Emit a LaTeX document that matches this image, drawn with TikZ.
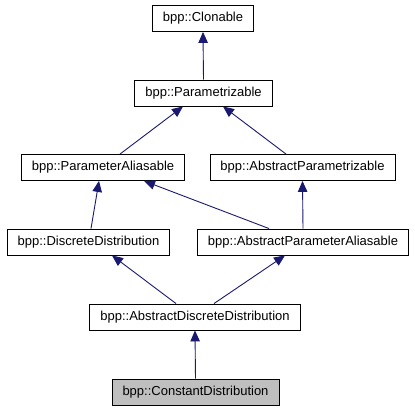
\documentclass[tikz,border=0pt]{standalone}
\usepackage{fontspec}
\setmainfont{Liberation Sans}
\usepackage{xcolor}
\usepackage{tikz}
\usetikzlibrary{arrows.meta}

\definecolor{edgeblue}{HTML}{191970}

\begin{document}
\begin{tikzpicture}[x=1pt, y=-1pt,
    cls/.style={draw, line width=0.9pt, inner xsep=10.5pt, minimum height=26pt,
        font=\fontsize{13}{15}\selectfont},
    inh/.style={draw=edgeblue, line width=0.9pt,
        -{Triangle[length=11pt, width=9.5pt, fill=edgeblue]}}]
    \useasboundingbox (0,0) rectangle (415,411);

    % classes
    \node[cls] (clon) at (203,18.5) {bpp::Clonable};
    \node[cls] (par) at (203.5,93) {bpp::Parametrizable};
    \node[cls] (pal) at (103,167.5) {bpp::ParameterAliasable};
    \node[cls] (apz) at (302.5,167.5) {bpp::AbstractParametrizable};
    \node[cls] (dd) at (88.5,242) {bpp::DiscreteDistribution};
    \node[cls] (apa) at (303,242) {bpp::AbstractParameterAliasable};
    \node[cls] (add) at (195,317) {bpp::AbstractDiscreteDistribution};
    \node[cls, fill=black!25] (cst) at (195.5,392) {bpp::ConstantDistribution};

    % inheritance
    \draw[inh] (par.north) -- (clon.south);
    \draw[inh] ([xshift=17pt]pal.north) -- ([xshift=-20.5pt]par.south);
    \draw[inh] ([xshift=-16.5pt]apz.north) -- ([xshift=19.5pt]par.south);
    \draw[inh] ([xshift=2.5pt]dd.north) -- ([xshift=-4pt]pal.south);
    \draw[inh] ([xshift=-34pt]apa.north) -- ([xshift=41pt]pal.south);
    \draw[inh] (apa.north) -- (apz.south);
    \draw[inh] ([xshift=-19pt]add.north) -- ([xshift=23.5pt]dd.south);
    \draw[inh] ([xshift=19pt]add.north) -- ([xshift=-18pt]apa.south);
    \draw[inh] (cst.north) -- (add.south);
\end{tikzpicture}
\end{document}
